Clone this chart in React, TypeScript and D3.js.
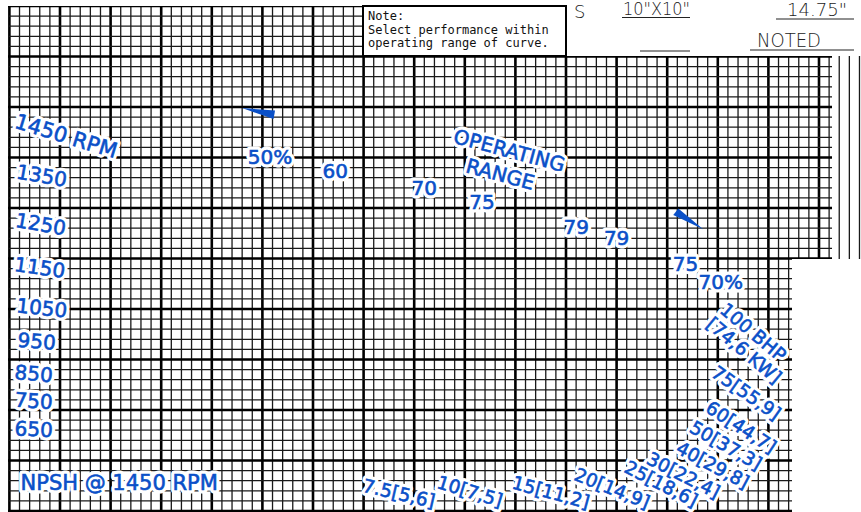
import React from "react";
import * as d3 from "d3";

const W = 861;
const H = 512;

// grid definition (in minor divisions)
const GRID_COLS = 84;
const GRID_ROWS = 50;
const MAJOR_EVERY = 5;

// speed (impeller) labels
const speedLabels = ["1450 RPM", "1350", "1250", "1150", "1050", "950", "850", "750", "650"];
const speedX = [5.6, 3.2, 3.1, 3.0, 3.2, 2.7, 2.4, 2.4, 2.4];
const speedY = [12.9, 16.8, 21.6, 25.9, 29.9, 33.2, 36.4, 39.1, 41.9];
const speedAngle = [17, 10, 10, 8, 6, 5, 5, 4, 3];

// efficiency labels
const effLabels = ["50%", "60", "70", "75", "79", "79", "75", "70%"];
const effX = [25.75, 32.2, 41.0, 46.7, 56.0, 60.0, 66.8, 70.3];
const effY = [14.95, 16.3, 18.0, 19.4, 21.9, 23.0, 25.5, 27.3];

// power labels (BHP [kW])
const powerLabels = ["100 BHP", "[74,6 KW]", "75[55,9]", "60[44,7]", "50[37,3]", "40[29,8]", "30[22,4]", "25[18,6]", "20[14,9]", "15[11,2]", "10[7,5]", "7.5[5,6]"];
const powerX = [73.5, 72.6, 72.8, 72.3, 70.8, 69.5, 66.6, 64.4, 59.55, 53.5, 45.5, 38.5];
const powerY = [32.3, 34.1, 38.3, 41.7, 43.5, 45.45, 46.45, 47.3, 47.75, 48.15, 48.05, 48.25];
const powerAngle = [40, 40, 35, 33, 30, 28, 27, 27, 22, 15, 17, 13];

// operating range label
const rangeLabels = ["OPERATING", "RANGE"];
const rangeX = [49.4, 48.5];
const rangeY = [14.3, 16.65];

// NPSH label
const npshLabel = "NPSH @ 1450 RPM";
const npshX = 10.85;
const npshY = 47.25;

// wedge markers (grid units)
const wedge1 = [[22.99, 10.1], [26.25, 10.35], [26.1, 11.2]];
const wedge2 = [[65.6, 20.7], [66.1, 20.05], [68.55, 22.1]];

// note box lines
const noteLines = ["Note:", "Select performance within", "operating range of curve."];

const BLUE = "#0a50c8";

type Lab = { t: string; gx: number; gy: number; ang: number; size: number };

export default function App() {
  const x = d3.scaleLinear().domain([0, GRID_COLS]).range([9.4, 9.4 + GRID_COLS * 10.12]);
  const y = d3.scaleLinear().domain([0, GRID_ROWS]).range([6, 6 + GRID_ROWS * 10.1]);

  const cols = d3.range(0, GRID_COLS + 1);
  const rows = d3.range(0, GRID_ROWS + 1);
  const line = d3.line();

  const labels: Lab[] = [
    ...speedLabels.map((t, i) => ({ t, gx: speedX[i], gy: speedY[i], ang: speedAngle[i], size: i === 0 ? 21 : 20 })),
    ...effLabels.map((t, i) => ({ t, gx: effX[i], gy: effY[i], ang: 0, size: 20 })),
    ...rangeLabels.map((t, i) => ({ t, gx: rangeX[i], gy: rangeY[i], ang: 15, size: 20 })),
    ...powerLabels.map((t, i) => ({ t, gx: powerX[i], gy: powerY[i], ang: powerAngle[i], size: 18.5 })),
    { t: npshLabel, gx: npshX, gy: npshY, ang: 0, size: 21 },
  ];

  const textProps = (l: Lab) => ({
    transform: `translate(${x(l.gx)},${y(l.gy)}) rotate(${l.ang})`,
    textAnchor: "middle" as const,
    dominantBaseline: "central" as const,
    fontFamily: "'DejaVu Sans', sans-serif",
    fontSize: l.size,
  });

  return (
    <svg width={W} height={H} style={{ position: "absolute", left: 0, top: 0, background: "#fff" }}>
      <defs>
        <clipPath id="clipV">
          <rect x={8} y={6} width={356} height={506} />
          <rect x={363} y={56} width={429} height={456} />
          <rect x={791} y={56} width={70} height={203} />
        </clipPath>
        <clipPath id="clipH">
          <rect x={8} y={6} width={356} height={506} />
          <rect x={363} y={56} width={429} height={456} />
          <rect x={791} y={56} width={41} height={203} />
        </clipPath>
      </defs>

      <g clipPath="url(#clipV)">
        {cols.map((c) => (
          <line
            key={"v" + c}
            x1={x(c)}
            x2={x(c)}
            y1={0}
            y2={H}
            stroke={c % MAJOR_EVERY === 0 ? "#000" : "#1a1a1a"}
            strokeWidth={c % MAJOR_EVERY === 0 ? 2.6 : 1.3}
          />
        ))}
      </g>
      <g clipPath="url(#clipH)">
        {rows.map((r) => (
          <line
            key={"h" + r}
            x1={0}
            x2={W}
            y1={y(r)}
            y2={y(r)}
            stroke={r % MAJOR_EVERY === 0 ? "#000" : "#1a1a1a"}
            strokeWidth={r % MAJOR_EVERY === 0 ? 2.6 : 1.3}
          />
        ))}
      </g>

      {/* note box */}
      <rect x={363} y={6} width={203} height={50} fill="#fff" stroke="#000" strokeWidth={2} />
      {noteLines.map((t, i) => (
        <text
          key={"n" + i}
          x={368}
          y={20 + i * 13.5}
          fontFamily="'DejaVu Sans Mono', monospace"
          fontSize={12}
          fill="#111"
        >
          {t}
        </text>
      ))}

      {/* header fragments */}
      <g fontFamily="'DejaVu Sans', sans-serif" fill="#222" fontWeight={300}>
        <text x={574} y={18} fontSize={18}>S</text>
        <text x={623} y={15} fontSize={17} textLength={67} lengthAdjust="spacingAndGlyphs">10"X10"</text>
        <line x1={622} x2={690} y1={17.5} y2={17.5} stroke="#222" strokeWidth={1.2} />
        <text x={787} y={16} fontSize={17} textLength={60} lengthAdjust="spacingAndGlyphs">14.75"</text>
        <line x1={776} x2={854} y1={19} y2={19} stroke="#222" strokeWidth={1.2} />
        <text x={757} y={47} fontSize={20} textLength={64} lengthAdjust="spacingAndGlyphs">NOTED</text>
        <line x1={750} x2={854} y1={50} y2={50} stroke="#222" strokeWidth={1.2} />
        <line x1={640} x2={690} y1={51} y2={51} stroke="#222" strokeWidth={1.2} />
      </g>

      {/* label halos first, so that no halo hides another label */}
      <g aria-hidden="true">
        {labels.map((l, i) => (
          <text key={"h" + i} {...textProps(l)} fill="#fff" stroke="#fff" strokeWidth={7} strokeLinejoin="round">
            {l.t}
          </text>
        ))}
      </g>

      {/* wedges */}
      {[wedge1, wedge2].map((w, i) => (
        <path
          key={"w" + i}
          d={line(w.map(([a, b]) => [x(a), y(b)] as [number, number]))! + "Z"}
          fill={BLUE}
        />
      ))}

      <g>
        {labels.map((l, i) => (
          <text key={"t" + i} {...textProps(l)} fill={BLUE} stroke={BLUE} strokeWidth={0.6}>
            {l.t}
          </text>
        ))}
      </g>
    </svg>
  );
}
